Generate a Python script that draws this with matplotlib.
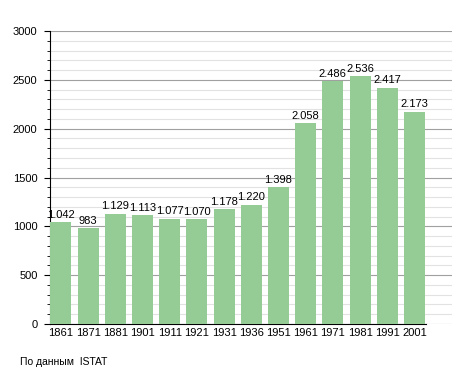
import matplotlib.pyplot as plt
import numpy as np

plt.rcParams['font.family'] = ['Liberation Sans', 'DejaVu Sans']

years = ["1861", "1871", "1881", "1901", "1911", "1921", "1931",
         "1936", "1951", "1961", "1971", "1981", "1991", "2001"]
population = [1042, 983, 1129, 1113, 1077, 1070, 1178,
              1220, 1398, 2058, 2486, 2536, 2417, 2173]
labels = ["1.042", "983", "1.129", "1.113", "1.077", "1.070", "1.178",
          "1.220", "1.398", "2.058", "2.486", "2.536", "2.417", "2.173"]

fig = plt.figure(figsize=(4.55, 3.73), dpi=100)
ax = fig.add_axes([50 / 455, 49 / 373, 402 / 455, 293 / 373])

x = np.arange(len(years))
bar_w = 0.77
ax.bar(x, population, width=bar_w, color="#95cb95", zorder=3)

for xi, val, lab in zip(x, population, labels):
    ax.text(xi, val + 25, lab, ha="center", va="bottom", fontsize=8, zorder=4)

ax.set_xlim(-0.4, 14.38)
ax.set_ylim(0, 3000)
ax.set_yticks(np.arange(0, 3001, 500))
ax.set_yticks(np.arange(0, 3001, 100), minor=True)
ax.grid(axis="y", which="major", color="#a0a0a0", linewidth=0.8, zorder=0)
ax.grid(axis="y", which="minor", color="#e2e2e2", linewidth=0.8, zorder=0)

ax.set_xticks(x)
ax.set_xticklabels(years)
ax.tick_params(axis="x", length=0, labelsize=8, pad=3)
ax.tick_params(axis="y", which="major", length=4, labelsize=8, pad=5)
ax.tick_params(axis="y", which="minor", length=2)

ax.spines["top"].set_visible(False)
ax.spines["right"].set_visible(False)
ax.spines["bottom"].set_bounds(-0.4, x[-1] + bar_w / 2 + 0.05)

fig.text(20 / 455, 1 - 362 / 373, "По данным  ISTAT", fontsize=7.5, va="center")

plt.savefig("out.png", dpi=100)
